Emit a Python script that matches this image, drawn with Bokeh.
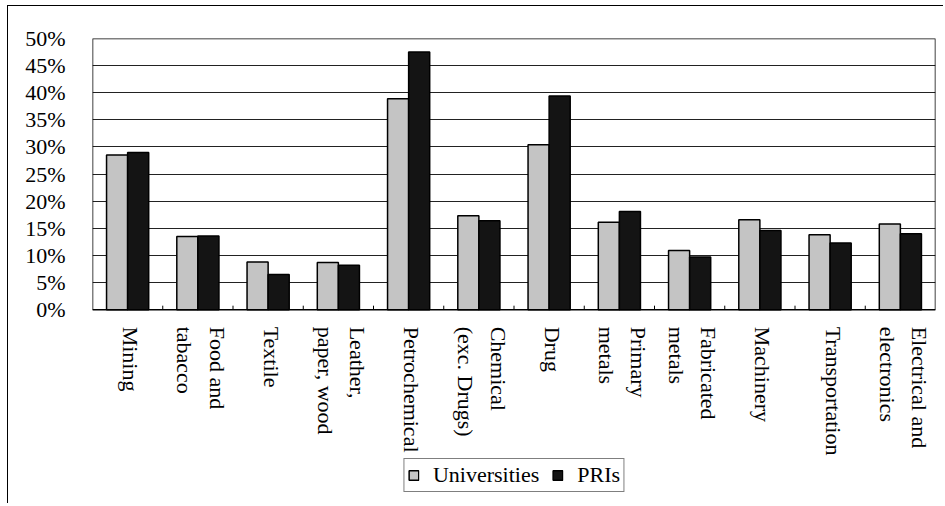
import math
from bokeh.plotting import figure
from bokeh.models import (FixedTicker, Legend, LegendItem, PrintfTickFormatter,
                          Range1d, ColumnDataSource)
from bokeh.transform import dodge
from bokeh.core.properties import value
from bokeh.embed import file_html
from bokeh.resources import INLINE

# ---- data ----
categories = ["Mining", "Food and\ntabacco", "Textile", "Leather,\npaper, wood",
              "Petrochemical", "Chemical\n(exc. Drugs)", "Drug", "Primary\nmetals",
              "Fabricated\nmetals", "Machinery", "Transportation",
              "Electrical and\nelectronics"]
universities = [28.5, 13.5, 8.8, 8.7, 38.9, 17.3, 30.4, 16.1, 10.9, 16.6, 13.8, 15.8]
pris = [29.0, 13.6, 6.5, 8.2, 47.5, 16.4, 39.4, 18.1, 9.7, 14.6, 12.3, 14.0]
y_ticks = [0, 5, 10, 15, 20, 25, 30, 35, 40, 45, 50]
series_names = ["Universities", "PRIs"]

FONT = "Liberation Serif"
n = len(categories)
idx = list(range(n))
y_min, y_max = y_ticks[0], y_ticks[-1]
x_start, x_end = -0.5, n - 0.5

# the frame also hosts the category labels and the legend below the value area
PLOT_H = 271                     # pixel height of the 0..50 area
ppu = PLOT_H / (y_max - y_min)   # pixels per unit
EXTRA_BELOW = 35                 # units of room under 0 for labels + legend

src = ColumnDataSource(dict(x=idx, uni=universities, pri=pris, lab=categories))

p = figure(frame_width=843, frame_height=round((y_max - y_min + EXTRA_BELOW) * ppu),
           output_backend="svg", toolbar_location=None,
           x_range=Range1d(x_start, x_end), y_range=Range1d(-EXTRA_BELOW, y_max),
           x_axis_location=None,
           min_border_left=84, min_border_top=32, min_border_right=8,
           min_border_bottom=4)
p.margin = (5, 0, 0, 7)
p.styles = {"border-left": "1.5px solid black", "border-top": "1.5px solid black"}
p.outline_line_color = None

# horizontal grid only inside 0..50
p.xgrid.grid_line_color = None
p.ygrid.ticker = FixedTicker(ticks=y_ticks)
p.ygrid.grid_line_color = "#222222"
p.ygrid.grid_line_width = 1

r1 = p.vbar(x=dodge("x", -0.15, range=p.x_range), top="uni", width=0.3, source=src,
            fill_color="#c4c4c4", line_color="black", line_width=1.5)
r2 = p.vbar(x=dodge("x", 0.15, range=p.x_range), top="pri", width=0.3, source=src,
            fill_color="#141414", line_color="black", line_width=1.5)

# plot-area box (value area 0..50)
p.quad(left=[x_start], right=[x_end], bottom=[y_min], top=[y_max],
       fill_color=None, line_color="black", line_width=1.5)

# small inward ticks at category boundaries
bounds = [i + 0.5 for i in idx[:-1]]
p.segment(x0=bounds, y0=[y_min] * len(bounds), x1=bounds,
          y1=[y_min + 4 / ppu] * len(bounds), line_color="black", line_width=1)

# category labels, reading top to bottom
p.text(x="x", y=y_min, text="lab", source=src, angle=-math.pi / 2, y_offset=17,
       x_offset=3, text_align="left", text_baseline="middle",
       text_font=value(FONT), text_font_size="22px", text_color="black",
       text_line_height=1.3)

# y axis
p.yaxis.ticker = FixedTicker(ticks=y_ticks)
p.yaxis.formatter = PrintfTickFormatter(format="%d%%")
p.yaxis.axis_line_color = None
p.yaxis.major_tick_line_color = None
p.yaxis.minor_tick_line_color = None
p.yaxis.major_label_standoff = 21
p.yaxis.major_label_text_font = FONT
p.yaxis.major_label_text_font_size = "22px"
p.yaxis.major_label_text_color = "black"

legend = Legend(items=[LegendItem(label=series_names[0], renderers=[r1]),
                       LegendItem(label=series_names[1], renderers=[r2])],
                orientation="horizontal", location="bottom_center",
                label_text_font=FONT, label_text_font_size="22px",
                label_text_color="black", label_height=22,
                glyph_width=12, glyph_height=12, label_standoff=14,
                spacing=12, padding=3, margin=7,
                border_line_color="black", border_line_width=1,
                background_fill_color="white", background_fill_alpha=1.0)
p.add_layout(legend, "center")

open("out.html", "w").write(file_html(p, INLINE))
